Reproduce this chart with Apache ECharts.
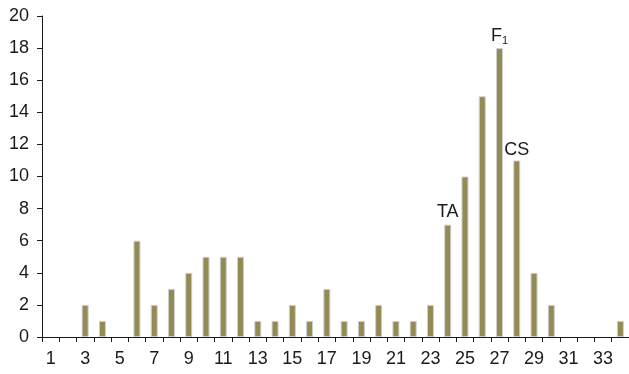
<!DOCTYPE html>
<html>
<head>
<meta charset="utf-8">
<script src="https://cdn.jsdelivr.net/npm/echarts@6/dist/echarts.min.js"></script>
<style>
  html, body { margin: 0; padding: 0; background: #fff; }
  #chart { width: 629px; height: 374px; }
</style>
</head>
<body>
<div id="chart"></div>
<script>
// Class positions 1..34 and the count in each
const categories = Array.from({ length: 34 }, (_, i) => String(i + 1));
const counts = [0, 0, 2, 1, 0, 6, 2, 3, 4, 5, 5, 5, 1, 1, 2, 1, 3, 1, 1, 2, 1, 1, 2, 7, 10, 15, 18, 11, 4, 2, 0, 0, 0, 1];
// Annotated bars: category -> label
const annotations = { '24': 'TA', '27': 'F{sub|1}', '28': 'CS' };
// gap between each annotation and its bar top
const annotationGap = { '24': 4, '27': 2, '28': 1 };
const yTicks = { min: 0, max: 20, interval: 2 };

const font = 'Liberation Sans, Arial, sans-serif';
const textColor = '#1a1a1a';
const fontSize = 18;

const data = counts.map((v, i) => {
  const cat = categories[i];
  const item = { value: v };
  // empty classes draw no outline
  if (v === 0) item.itemStyle = { borderWidth: 0 };
  if (annotations[cat]) {
    item.label = {
      show: true,
      position: 'top',
      distance: annotationGap[cat],
      formatter: annotations[cat],
      color: textColor,
      fontSize: fontSize,
      fontFamily: font,
      rich: {
        sub: { fontSize: 11, verticalAlign: 'bottom', padding: [9, 0, 0, 0], color: textColor, fontFamily: font }
      }
    };
  }
  return item;
});

const chart = echarts.init(document.getElementById('chart'), null, { renderer: 'canvas' });
chart.setOption({
  animation: false,
  backgroundColor: '#fff',
  grid: { left: 42, right: 0, top: 16, bottom: 37, containLabel: false },
  xAxis: {
    type: 'category',
    data: categories,
    boundaryGap: true,
    axisLine: { lineStyle: { color: textColor, width: 1 } },
    axisTick: { show: true, alignWithLabel: false, interval: 0, length: 5, lineStyle: { color: textColor } },
    axisLabel: { interval: 1, margin: 13, color: textColor, fontSize: fontSize, fontFamily: font },
    splitLine: { show: false }
  },
  yAxis: {
    type: 'value',
    min: yTicks.min,
    max: yTicks.max,
    interval: yTicks.interval,
    axisLine: { show: true, lineStyle: { color: textColor, width: 1 } },
    axisTick: { show: true, length: 5, lineStyle: { color: textColor } },
    axisLabel: { margin: 13, color: textColor, fontSize: fontSize, fontFamily: font },
    splitLine: { show: false }
  },
  series: [{
    type: 'bar',
    data: data,
    barWidth: 7,
    itemStyle: { color: '#948a54', borderColor: '#cfcfcf', borderWidth: 1 }
  }]
});
</script>
</body>
</html>
